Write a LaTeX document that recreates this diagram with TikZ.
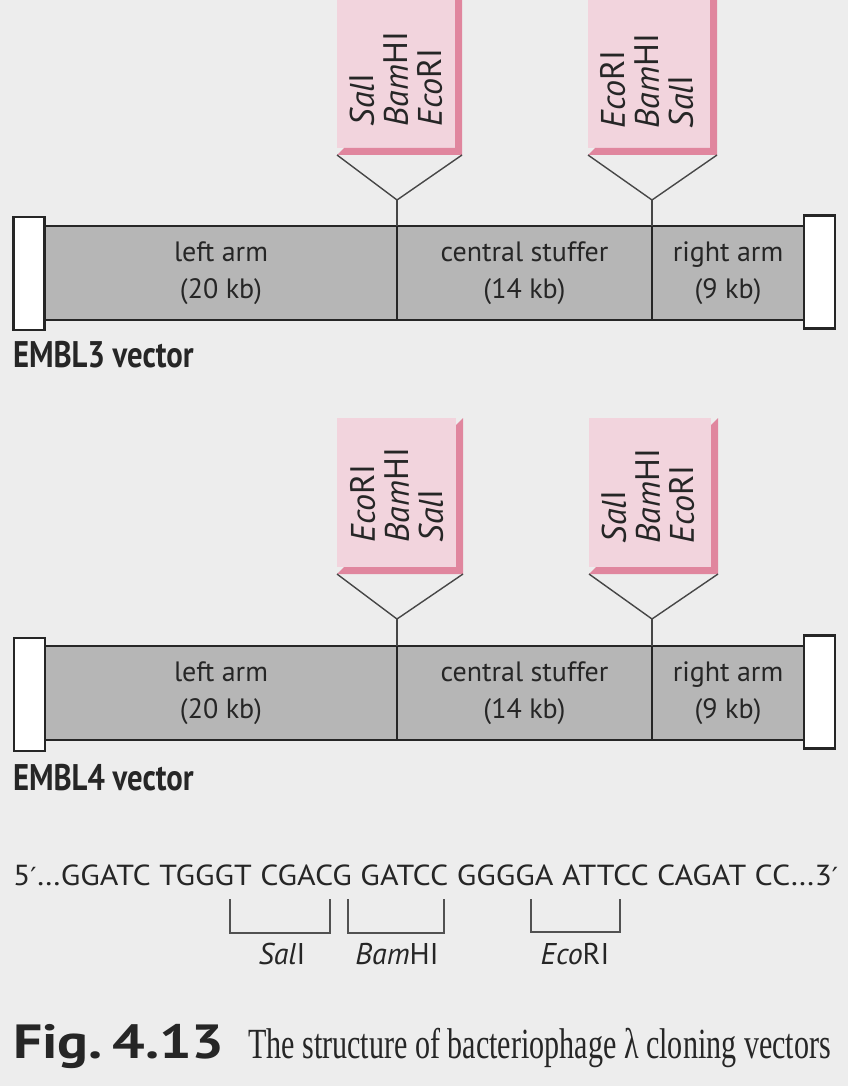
\documentclass[tikz,border=0pt]{standalone}
\usepackage{fontspec}
\setmainfont{PT Sans}
\newfontfamily\capserif{Liberation Serif}
\newfontfamily\primefont{DejaVu Sans}
\newcommand\prm{{\primefont\fontsize{25}{26}\selectfont ′}}
\definecolor{bg}{HTML}{EDEDED}
\definecolor{pinkL}{HTML}{F2D4DD}
\definecolor{pinkD}{HTML}{E0869E}
\definecolor{barfill}{HTML}{B6B6B6}
\definecolor{ink}{HTML}{262626}
\newcommand\sitebox[4]{%
  \fill[pinkL] (#1,#2) rectangle (#3,#4);
  \fill[pinkD] (#3,#2+7) -- (#3+7,#2) -- (#3+7,#4+7) -- (#1,#4+7) -- (#1+7,#4) -- (#3,#4) -- cycle;}
\begin{document}
\begin{tikzpicture}[x=1pt,y=-1pt,
  every node/.style={text=ink, inner sep=0pt, outer sep=0pt},
  seg/.style={fill=barfill, minimum height=94pt, align=center,
    font=\fontsize{28}{37}\selectfont},
  endbox/.style={draw=ink, line width=2.2pt, fill=white, minimum width=31pt, minimum height=113pt},
  barline/.style={draw=ink, line width=2.4pt},
  divline/.style={draw=ink, line width=1.4pt},
  vline/.style={draw=ink!85, line width=1.4pt},
  enz/.style={rotate=90, align=left, font=\fontsize{34}{34}\selectfont},
  vlabel/.style={anchor=base west, font=\bfseries\fontsize{37}{40}\selectfont, xscale=0.83},
  brk/.style={draw=ink!80, line width=1.4pt},
  blabel/.style={anchor=base, font=\fontsize{30}{32}\selectfont}]
\fill[bg] (0,0) rectangle (848,1086);
\useasboundingbox (0,0) rectangle (848,1086);
\clip (0,0) rectangle (848,1086);

% ---------- EMBL3 ----------
\sitebox{337}{-20}{455}{148}
\sitebox{588}{-20}{710}{148}
\node[enz] (s3a) at (396,79) {\textit{Sal}I\\\textit{Bam}HI\\\textit{Eco}RI};
\node[enz] (s3b) at (647,81) {\textit{Eco}RI\\\textit{Bam}HI\\\textit{Sal}I};

\node[seg, minimum width=352pt] (L3) at (221,273) {left arm\\(20 kb)};
\node[seg, minimum width=255pt] (C3) at (524.5,273) {central stuffer\\(14 kb)};
\node[seg, minimum width=152pt] (R3) at (728,273) {right arm\\(9 kb)};
\draw[barline] (L3.north west) -- (R3.north east);
\draw[barline] (L3.south west) -- (R3.south east);
\draw[divline] (C3.north west) -- (C3.south west);
\draw[divline] (C3.north east) -- (C3.south east);
\node[endbox] (E3l) at (29,273.5) {};
\node[endbox] (E3r) at (819.5,272) {};

\coordinate (a3l) at (337,155); \coordinate (b3l) at (462,155); \coordinate (v3l) at (397,200);
\coordinate (a3r) at (588,155); \coordinate (b3r) at (717,155); \coordinate (v3r) at (652,200);
\draw[vline] (a3l) -- (v3l) -- (b3l);
\draw[vline] (v3l) -- (C3.north west);
\draw[vline] (a3r) -- (v3r) -- (b3r);
\draw[vline] (v3r) -- (C3.north east);

\node[vlabel] (n3) at (13,367) {EMBL3 vector};

% ---------- EMBL4 ----------
\sitebox{337}{418}{456}{567}
\sitebox{589}{418}{711}{567}
\node[enz] (s4a) at (397,495) {\textit{Eco}RI\\\textit{Bam}HI\\\textit{Sal}I};
\node[enz] (s4b) at (648,496) {\textit{Sal}I\\\textit{Bam}HI\\\textit{Eco}RI};

\node[seg, minimum width=352pt] (L4) at (221,693) {left arm\\(20 kb)};
\node[seg, minimum width=255pt] (C4) at (524.5,693) {central stuffer\\(14 kb)};
\node[seg, minimum width=152pt] (R4) at (728,693) {right arm\\(9 kb)};
\draw[barline] (L4.north west) -- (R4.north east);
\draw[barline] (L4.south west) -- (R4.south east);
\draw[divline] (C4.north west) -- (C4.south west);
\draw[divline] (C4.north east) -- (C4.south east);
\node[endbox] (E4l) at (29.5,694.5) {};
\node[endbox] (E4r) at (819.5,692) {};

\coordinate (a4l) at (337,574); \coordinate (b4l) at (463,574); \coordinate (v4l) at (397,619);
\coordinate (a4r) at (589,574); \coordinate (b4r) at (718,574); \coordinate (v4r) at (652,619);
\draw[vline] (a4l) -- (v4l) -- (b4l);
\draw[vline] (v4l) -- (C4.north west);
\draw[vline] (a4r) -- (v4r) -- (b4r);
\draw[vline] (v4r) -- (C4.north east);

\node[vlabel] (n4) at (13,790) {EMBL4 vector};

% ---------- sequence ----------
\node[anchor=base west, font=\fontsize{29}{30}\selectfont, xscale=1.1] (seq) at (13,885)
  {5\prm…GGATC TGGGT CGACG GATCC GGGGA ATTCC CAGAT CC…3\prm};
\coordinate (p1) at (230,899); \coordinate (p2) at (330,899);
\coordinate (p3) at (348,899); \coordinate (p4) at (444,899);
\coordinate (p5) at (531,899); \coordinate (p6) at (620,899);
\draw[brk] (p1) -- ++(0,34) -| (p2);
\draw[brk] (p3) -- ++(0,34) -| (p4);
\draw[brk] (p5) -- ++(0,33) -| (p6);
\node[blabel] (lsal) at (282,964) {\textit{Sal}I};
\node[blabel] (lbam) at (397,964) {\textit{Bam}HI};
\node[blabel] (leco) at (575,964) {\textit{Eco}RI};

% ---------- caption ----------
\node[anchor=base west, font=\bfseries\fontsize{48}{50}\selectfont, xscale=1.2] (fig) at (13,1058) {Fig.\,4.13};
\node[anchor=base west, font=\capserif\fontsize{43}{45}\selectfont, xscale=0.70] (cap) at (248,1058)
  {The structure of bacteriophage λ cloning vectors};
\end{tikzpicture}
\end{document}
